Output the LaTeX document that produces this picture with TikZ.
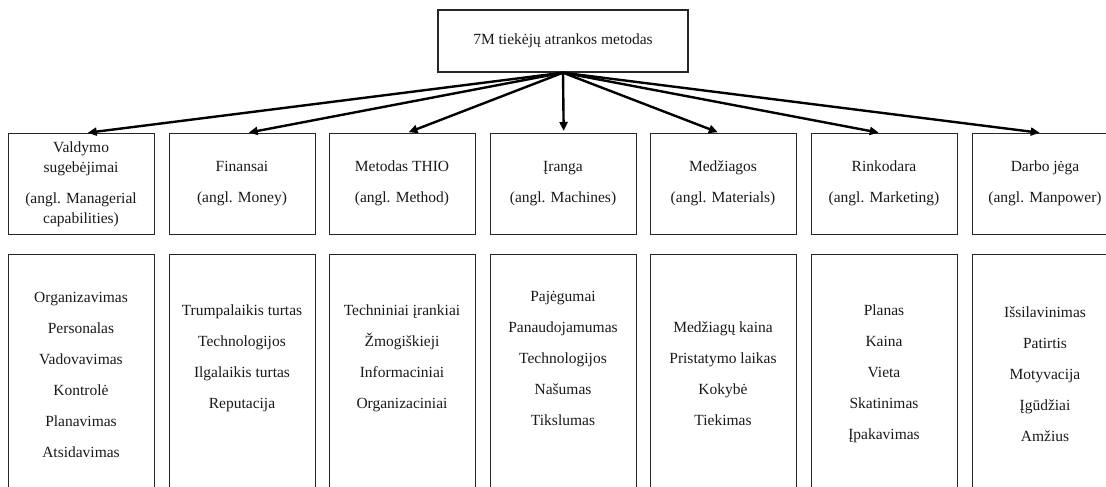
\documentclass[tikz,border=0pt]{standalone}
\usepackage{fontspec}
\setmainfont{Liberation Serif}
\usetikzlibrary{arrows.meta}
\begin{document}
\begin{tikzpicture}[x=1pt,y=-1pt,
  box/.style={draw=black!85, line width=1.4pt, minimum width=146pt, inner sep=0pt, anchor=north west},
  hbox/.style={box, minimum height=101pt},
  lbox/.style={box, minimum height=280pt},
  txt/.style={align=center, font=\fontsize{15.5}{31}\selectfont, inner sep=0pt, text=black!90},
  htxt/.style={align=center, font=\fontsize{15.5}{20}\selectfont, inner sep=0pt, text=black!90},
  arr/.style={line width=2.4pt, shorten >=2pt, -{Triangle[length=9pt,width=8pt]}}]
\useasboundingbox (0,0) rectangle (1106,487);
\clip (0,0) rectangle (1106,487);

% top box
\node[draw=black!85, line width=1.4pt, minimum width=250pt, minimum height=62pt, inner sep=0pt,
      font=\fontsize{15.5}{20}\selectfont, text=black!90] (top) at (563,41) {7M tiekėjų atrankos metodas};

% second row boxes
\node[hbox] (h1) at (8,133) {};
\node[hbox] (h2) at (169,133) {};
\node[hbox] (h3) at (329,133) {};
\node[hbox] (h4) at (490,133) {};
\node[hbox] (h5) at (650,133) {};
\node[hbox] (h6) at (811,133) {};
\node[hbox] (h7) at (972,133) {};

\node[htxt] (ht1) at (81,184) {Valdymo\\sugebėjimai\\[11pt](angl. Managerial\\capabilities)};
\node[htxt] (ht2) at (242,183.5) {Finansai\\[11pt](angl. Money)};
\node[htxt] (ht3) at (402,183.5) {Metodas THIO\\[11pt](angl. Method)};
\node[htxt] (ht4) at (563,183.5) {Įranga\\[11pt](angl. Machines)};
\node[htxt] (ht5) at (723,183.5) {Medžiagos\\[11pt](angl. Materials)};
\node[htxt] (ht6) at (884,183.5) {Rinkodara\\[11pt](angl. Marketing)};
\node[htxt] (ht7) at (1045,183.5) {Darbo jėga\\[11pt](angl. Manpower)};

% third row boxes
\node[lbox] (l1) at (8,254) {};
\node[lbox] (l2) at (169,254) {};
\node[lbox] (l3) at (329,254) {};
\node[lbox] (l4) at (490,254) {};
\node[lbox] (l5) at (650,254) {};
\node[lbox] (l6) at (811,254) {};
\node[lbox] (l7) at (972,254) {};

\node[txt] (lt1) at (81,374.5) {Organizavimas\\Personalas\\Vadovavimas\\Kontrolė\\Planavimas\\Atsidavimas};
\node[txt] (lt2) at (242,358.5) {Trumpalaikis turtas\\Technologijos\\Ilgalaikis turtas\\Reputacija};
\node[txt] (lt3) at (402,358.5) {Techniniai įrankiai\\Žmogiškieji\\Informaciniai\\Organizaciniai};
\node[txt] (lt4) at (563,358) {Pajėgumai\\Panaudojamumas\\Technologijos\\Našumas\\Tikslumas};
\node[txt] (lt5) at (723,373.5) {Medžiagų kaina\\Pristatymo laikas\\Kokybė\\Tiekimas};
\node[txt] (lt6) at (884,374) {Planas\\Kaina\\Vieta\\Skatinimas\\Įpakavimas};
\node[txt] (lt7) at (1045,374) {Išsilavinimas\\Patirtis\\Motyvacija\\Įgūdžiai\\Amžius};

% arrows
\draw[arr] (top.south) -- ([xshift=4pt]h1.north);
\draw[arr] (top.south) -- ([xshift=4pt]h2.north);
\draw[arr] (top.south) -- ([xshift=4pt]h3.north);
\draw[arr] (top.south) -- (h4.north);
\draw[arr] (top.south) -- ([xshift=-4pt]h5.north);
\draw[arr] (top.south) -- ([xshift=-4pt]h6.north);
\draw[arr] (top.south) -- ([xshift=-4pt]h7.north);
\end{tikzpicture}
\end{document}
